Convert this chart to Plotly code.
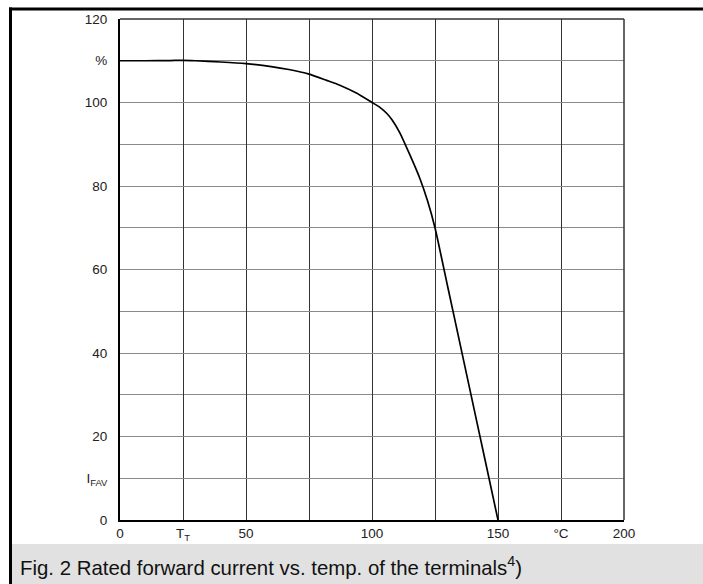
import plotly.graph_objects as go

# Data
temp_c = [0, 10, 20, 25, 30, 40, 50, 60, 67, 75, 82, 87, 94, 100, 103, 106,
          108, 111, 115, 119, 122, 125, 130, 135, 140, 145, 150]
ifav_pct = [110, 110, 110.05, 110.1, 110.0, 109.7, 109.3, 108.6, 107.9, 106.8,
            105.3, 104.2, 102.2, 100, 98.9, 97.3, 95.8, 92.8, 87.5, 81.8,
            76.5, 70, 56, 42, 28, 14, 0]

x_tickvals = [0, 25, 50, 100, 150, 175, 200]
x_ticktext = ["0", "T<sub>T</sub>", "50", "100", "150", "°C", "200"]
x_minor_grid = [75, 125]
y_tickvals = [0, 10, 20, 40, 60, 80, 100, 110, 120]
y_ticktext = ["0", "I<sub>FAV</sub>", "20", "40", "60", "80", "100", "%", "120"]
y_minor_grid = [30, 50, 70, 90]
caption = "Fig. 2 Rated forward current vs. temp. of the terminals<sup>4</sup>)"

W, H = 703, 584
L, R, T, B = 120, 79, 17, 64
pw, ph = W - L - R, H - T - B

def px(xp):
    return (xp - L) / pw

def py(yp):
    return (H - B - yp) / ph

font = "Liberation Sans, Arial, sans-serif"

fig = go.Figure()
fig.add_trace(go.Scatter(x=temp_c, y=ifav_pct, mode="lines",
                         line=dict(color="black", width=1.7, shape="spline", smoothing=0.5),
                         hoverinfo="skip", showlegend=False))

shapes = [
    # caption band
    dict(type="rect", xref="paper", yref="paper", x0=px(10), x1=px(W + 5),
         y0=py(544), y1=py(H + 5), fillcolor="#e1e1e1", line=dict(width=0), layer="below"),
    # outer frame: left and top bars
    dict(type="rect", xref="paper", yref="paper", x0=px(9), x1=px(12),
         y0=py(5.5), y1=py(H + 5), fillcolor="black", line=dict(width=0)),
    dict(type="rect", xref="paper", yref="paper", x0=px(9), x1=px(W + 5),
         y0=py(5.5), y1=py(8.5), fillcolor="black", line=dict(width=0)),
    # top and right plot borders
    dict(type="line", xref="paper", yref="paper", x0=0, x1=1, y0=1, y1=1,
         line=dict(color="#333", width=1.5)),
    dict(type="line", xref="paper", yref="paper", x0=1, x1=1, y0=0, y1=1,
         line=dict(color="#333", width=1.5)),
]

fig.update_layout(
    width=W, height=H, autosize=False,
    margin=dict(l=L, r=R, t=T, b=B, pad=0),
    paper_bgcolor="white", plot_bgcolor="white",
    font=dict(family=font, size=13.5, color="#222"),
    shapes=shapes,
    annotations=[dict(text=caption, xref="paper", yref="paper",
                      x=px(18), y=py(566), xanchor="left", yanchor="middle",
                      showarrow=False, font=dict(family=font, size=20.4, color="#111"))],
    xaxis=dict(range=[0, 200], tickvals=x_tickvals, ticktext=x_ticktext,
               showgrid=True, gridcolor="#333", gridwidth=1,
               minor=dict(tickvals=x_minor_grid, showgrid=True, gridcolor="#333",
                          gridwidth=1, ticks=""),
               showline=True, linecolor="black", linewidth=2,
               ticks="", ticklabelstandoff=0, zeroline=False, fixedrange=True),
    yaxis=dict(range=[0, 120], tickvals=y_tickvals, ticktext=y_ticktext,
               showgrid=True, gridcolor="#8a8a8a", gridwidth=1.3,
               minor=dict(tickvals=y_minor_grid, showgrid=True, gridcolor="#8a8a8a",
                          gridwidth=1.3, ticks=""),
               showline=True, linecolor="black", linewidth=2,
               ticks="", ticklabelstandoff=8, zeroline=False, fixedrange=True),
)

fig.write_html("out.html", config={"displayModeBar": False},
               post_script="document.body.style.margin='0';")
